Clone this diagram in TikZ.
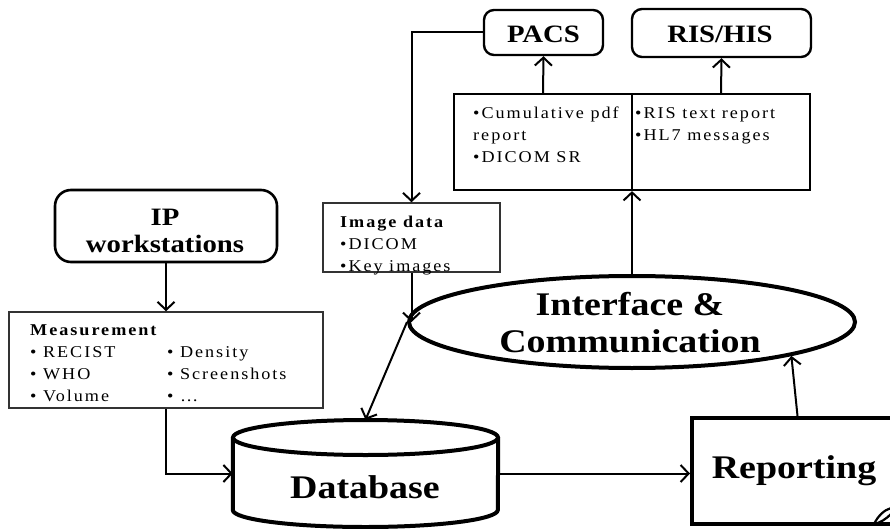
\documentclass[tikz,border=0pt]{standalone}
\usepackage{fontspec}
\setmainfont{Liberation Serif}
\newfontfamily\bigf{Liberation Serif}[FakeStretch=1.15]
\newfontfamily\smallf{Liberation Serif}[FakeStretch=1.1,LetterSpace=12]
\usetikzlibrary{arrows.meta,shapes.geometric}
\begin{document}
\begin{tikzpicture}[x=1pt,y=-1pt,
  arr/.style={line width=2pt,-{Straight Barb[length=8pt,width=17pt]}},
  tbox/.style={draw,line width=2.2pt,inner sep=0pt},
  thinbox/.style={draw=black!80,line width=1.5pt,inner sep=0pt},
  rbox/.style={draw,line width=2.4pt,rounded corners=10pt,inner sep=0pt},
  heavy/.style={draw,line width=4pt,inner sep=0pt},
  bigt/.style={font=\bigf\bfseries\fontsize{33}{37}\selectfont,inner sep=0pt},
  midt/.style={font=\bigf\bfseries\fontsize{25}{27}\selectfont,inner sep=0pt},
  smt/.style={font=\smallf\fontsize{16.5}{22}\selectfont,inner sep=0pt,align=left}
]
\useasboundingbox (0,0) rectangle (890,529);

% boxes
\node[rbox,minimum width=119pt,minimum height=45pt] (pacs) at (543.5,32.5) {};
\node[rbox,minimum width=179pt,minimum height=48pt] (ris) at (721.5,33) {};
\node[tbox,minimum width=178pt,minimum height=96pt] (topL) at (543,142) {};
\node[tbox,minimum width=178pt,minimum height=96pt] (topR) at (721,142) {};
\node[thinbox,minimum width=177pt,minimum height=69pt] (img) at (411.5,237.5) {};
\node[rbox,line width=2.6pt,rounded corners=16pt,minimum width=222pt,minimum height=72pt] (ip) at (166,226) {};
\node[thinbox,minimum width=314pt,minimum height=96pt] (meas) at (166,360) {};
\node[heavy,ellipse,minimum width=446pt,minimum height=92pt] (ic) at (632,322) {};
\node[minimum width=265pt,minimum height=107pt,inner sep=0pt] (db) at (365.5,473.5) {};
\node[heavy,minimum width=211pt,minimum height=106pt] (rep) at (797.5,471) {};

% database cylinder
\draw[line width=4pt,fill=white] (db.north west |- 0,437.5) -- (db.west |- 0,510)
  arc[start angle=180,end angle=360,x radius=132.5pt,y radius=17pt] -- (db.east |- 0,437.5);
\draw[line width=4pt,fill=white] (365.5,437.5) ellipse [x radius=132.5pt,y radius=17.5pt];

% curl of report page
\draw[line width=2.2pt] (874,524) .. controls (878,516) and (884,510) .. (891,508);
\draw[line width=2.2pt] (874,524) .. controls (880,523) and (886,519) .. (891,514);

% texts (base = baseline of the last line)
\node[midt,anchor=base] (pacst) at (543.5,43) {PACS};
\node[midt,anchor=base] (rist) at (720,43) {RIS/HIS};
\node[midt,anchor=base,align=center] (ipt) at (165,252) {IP\\workstations};
\node[bigt,anchor=base,align=center] (ict) at (630,352) {Interface \&\\Communication};
\node[bigt] (dbt) at (365,487) {Database};
\node[bigt,anchor=base] (rept) at (794,478) {Reporting};
\node[smt,anchor=base west] (topLt) at (473,162.5) {•Cumulative pdf\\report\\•DICOM SR};
\node[smt,anchor=base west] (topRt) at (635,140.5) {•RIS text report\\•HL7 messages};
\node[smt,anchor=base west] (imgt) at (340,271) {\bfseries Image data\\•DICOM\\•Key images};
\node[smt,anchor=base west] (measl) at (30,401.5) {\bfseries Measurement\\• RECIST\\• WHO\\• Volume};
\node[smt,anchor=base west] (measr) at (167,401.5) {• Density\\• Screenshots\\• …};

% connectors
\draw[arr] (topL.north) -- (pacs.south);
\draw[arr] (topR.north) -- (ris.south);
\draw[arr] (ic.north) -- (ic.north |- topL.south);
\draw[arr] (pacs.west) -| (img.north);
\draw[arr] (img.south) -- (img.south |- ic.west);
\draw[arr] (ic.west) -- (db.north);
\draw[arr] (ip.south) -- (meas.north);
\draw[arr] (meas.south) |- (db.west);
\draw[arr] (db.east) -- (db.east -| rep.west);
\draw[arr] (rep.north) -- (ic.-12.5);
\end{tikzpicture}
\end{document}
